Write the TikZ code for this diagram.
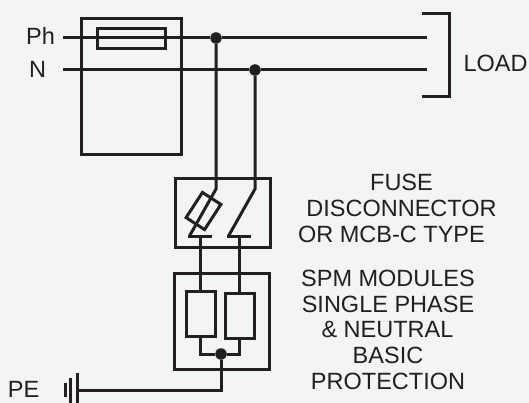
\documentclass[tikz,border=0pt]{standalone}
\usepackage{fontspec}
\setmainfont{Liberation Sans}
\usetikzlibrary{positioning}
\definecolor{panelgray}{HTML}{F2F4F6}
\definecolor{wireblack}{HTML}{231F20}
\tikzset{
wire/.style={line width=3, color=wireblack},
part/.style={draw=wireblack, line width=3, inner sep=0, outer sep=0},
dot/.style={circle, fill=wireblack, inner sep=0, outer sep=0, minimum size=11.5},
lbl/.style={text=wireblack, font=\fontsize{23.5}{27}\selectfont, inner sep=0, anchor=base},
}
\begin{document}
\begin{tikzpicture}[x=1pt,y=-1pt]
\fill[panelgray] (0,0) rectangle (529,403);
\useasboundingbox (0,0) rectangle (529,403);
% meter and main fuse
\node[part, minimum width=100, minimum height=136] (meter) at (131,87) {};
\node[part, minimum width=68, minimum height=20.5] (mainfuse) at (131,38.5) {};
% mains
\coordinate (phin) at (63,38);
\coordinate (nin) at (63,70);
\coordinate (phout) at (427,38);
\coordinate (nout) at (427,70);
\node[dot] (phdot) at (216,38) {};
\node[dot] (ndot) at (255,70) {};
\draw[wire] (phin) -- (phdot) -- (phout);
\draw[wire] (nin) -- (ndot) -- (nout);
% load bracket
\draw[wire] (422,14) -- (449,14) -- (449,97) -- (422,97);
% switch box
\node[part, minimum width=95, minimum height=68] (switchbox) at (222.5,213) {};
\coordinate (phtop) at (216,189);
\coordinate (ntop) at (255,189);
\coordinate (phbar) at (200,236);
\coordinate (nbar) at (239,236);
\draw[wire] (phdot) -- (phtop) -- (189.5,236);
\draw[wire] (188,236) -- (212,236);
\draw[wire] (ndot) -- (ntop) -- (228.5,236);
\draw[wire] (227,236) -- (251,236);
\node[part, rotate=57, minimum width=30, minimum height=22] (swfuse) at (203.5,211) {};
% spm modules
\node[part, minimum width=95, minimum height=96] (spmbox) at (221.5,321) {};
\node[part, minimum width=29, minimum height=44.5] (spmph) at (200.5,314) {};
\node[part, minimum width=29, minimum height=45] (spmn) at (239.5,315.5) {};
\node[dot] (pedot) at (221,354) {};
\draw[wire] (phbar) -- (spmph.north -| phbar);
\draw[wire] (nbar) -- (spmn.north -| nbar);
\draw[wire] (spmph.south -| phbar) |- (pedot);
\draw[wire] (spmn.south -| nbar) |- (pedot);
% earth
\coordinate (earth) at (77,390);
\draw[wire] (pedot) |- (earth);
\draw[wire] (77,373) -- (77,403);
\draw[wire] (70.5,378) -- (70.5,403);
\draw[wire] (65,383) -- (65,397);
% labels
\node[lbl] (ph) at (40.5,45) {Ph};
\node[lbl] (n) at (37.5,78) {N};
\node[lbl] (pe) at (23.5,397.5) {PE};
\node[lbl] (load) at (495.5,71.5) {LOAD};
\node[lbl] (t1) at (401.5,191) {FUSE};
\node[lbl] (t2) at (401.5,216.5) {DISCONNECTOR};
\node[lbl] (t3) at (391.5,242) {OR MCB-C TYPE};
\node[lbl] (t4) at (388,286.5) {SPM MODULES};
\node[lbl] (t5) at (388,312) {SINGLE PHASE};
\node[lbl] (t6) at (387.5,337.5) {\& NEUTRAL};
\node[lbl] (t7) at (388,363) {BASIC};
\node[lbl] (t8) at (388,389) {PROTECTION};
\end{tikzpicture}
\end{document}
